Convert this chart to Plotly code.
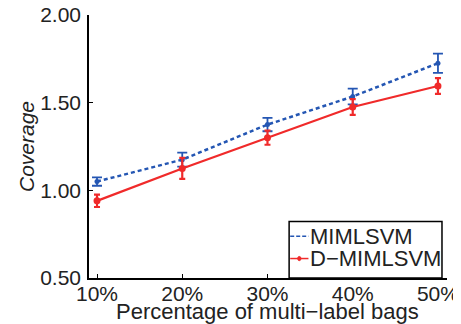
import plotly.graph_objects as go

percentages = [10, 20, 30, 40, 50]
tick_labels = ["10%", "20%", "30%", "40%", "50%"]
miml_vals = [1.05, 1.175, 1.375, 1.535, 1.725]
miml_err = [0.024, 0.04, 0.038, 0.045, 0.055]
dmiml_vals = [0.94, 1.125, 1.30, 1.475, 1.595]
dmiml_err = [0.035, 0.06, 0.04, 0.045, 0.045]
y_ticks = [0.5, 1.0, 1.5, 2.0]
y_tick_labels = ["0.50", "1.00", "1.50", "2.00"]

BLUE = "#2456b3"
RED = "#f02a2a"
FONT = "Liberation Sans, Arial, sans-serif"
TXT = "#222"

fig = go.Figure()
fig.add_trace(go.Scatter(
    x=percentages, y=miml_vals, mode="lines+markers", name="MIMLSVM",
    line=dict(color=BLUE, width=2.5, dash="4px,3px"),
    marker=dict(color=BLUE, size=5),
    error_y=dict(type="data", array=miml_err, color=BLUE, thickness=1.8, width=5),
    showlegend=False,
))
fig.add_trace(go.Scatter(
    x=percentages, y=dmiml_vals, mode="lines+markers", name="D-MIMLSVM",
    line=dict(color=RED, width=2.2),
    marker=dict(color=RED, size=7),
    error_y=dict(type="data", array=dmiml_err, color=RED, thickness=2.2, width=3),
    showlegend=False,
))

# manual legend box
fig.add_shape(type="rect", xref="paper", yref="paper", x0=0.559, x1=0.986, y0=0.0, y1=0.215,
              line=dict(color="black", width=1.5), fillcolor="white", layer="above")
fig.add_shape(type="line", xref="paper", yref="paper", x0=0.562, x1=0.613, y0=0.159, y1=0.159,
              line=dict(color=BLUE, width=1.5, dash="4px,2px"), layer="above")
fig.add_shape(type="line", xref="paper", yref="paper", x0=0.562, x1=0.613, y0=0.074, y1=0.074,
              line=dict(color=RED, width=1.5), layer="above")
fig.add_shape(type="circle", xref="paper", yref="paper", x0=0.583, x1=0.592, y0=0.066, y1=0.082,
              line=dict(color=RED, width=1), fillcolor=RED, layer="above")
fig.add_annotation(xref="paper", yref="paper", x=0.612, y=0.159, text="MIMLSVM", showarrow=False,
                   xanchor="left", yanchor="middle", font=dict(family=FONT, size=22, color=TXT))
fig.add_annotation(xref="paper", yref="paper", x=0.612, y=0.074, text="D\u2212MIMLSVM", showarrow=False,
                   xanchor="left", yanchor="middle", font=dict(family=FONT, size=22, color=TXT))

# x-axis title as annotation (placed close under tick labels)
fig.add_annotation(xref="paper", yref="paper", x=0.499, y=-0.129, text="Percentage of multi\u2212label bags",
                   showarrow=False, xanchor="center", yanchor="middle",
                   font=dict(family=FONT, size=22, color=TXT))

# page body has an 8px margin, so the figure is sized to fit inside the window
fig.update_layout(
    width=453, height=316,
    margin=dict(l=81, r=14, t=7, b=46, autoexpand=False),
    plot_bgcolor="white", paper_bgcolor="white",
    font=dict(family=FONT, size=21, color=TXT),
    xaxis=dict(range=[9.06, 51.06], tickvals=percentages, ticktext=tick_labels,
               ticks="inside", ticklen=4, tickwidth=1, tickcolor="black",
               ticklabelstandoff=-4, automargin=False, ticklabeloverflow="allow",
               showline=True, linecolor="black", linewidth=2, showgrid=False, zeroline=False),
    yaxis=dict(range=[0.5, 2.0], tickvals=y_ticks, ticktext=y_tick_labels,
               ticks="inside", ticklen=4, tickwidth=1, tickcolor="black",
               ticklabelstandoff=2, automargin=False, ticklabeloverflow="allow",
               showline=True, linecolor="black", linewidth=1.5, showgrid=False, zeroline=False,
               title=dict(text="<i>Coverage</i>", font=dict(size=21), standoff=0)),
)

fig.write_html("out.html")
